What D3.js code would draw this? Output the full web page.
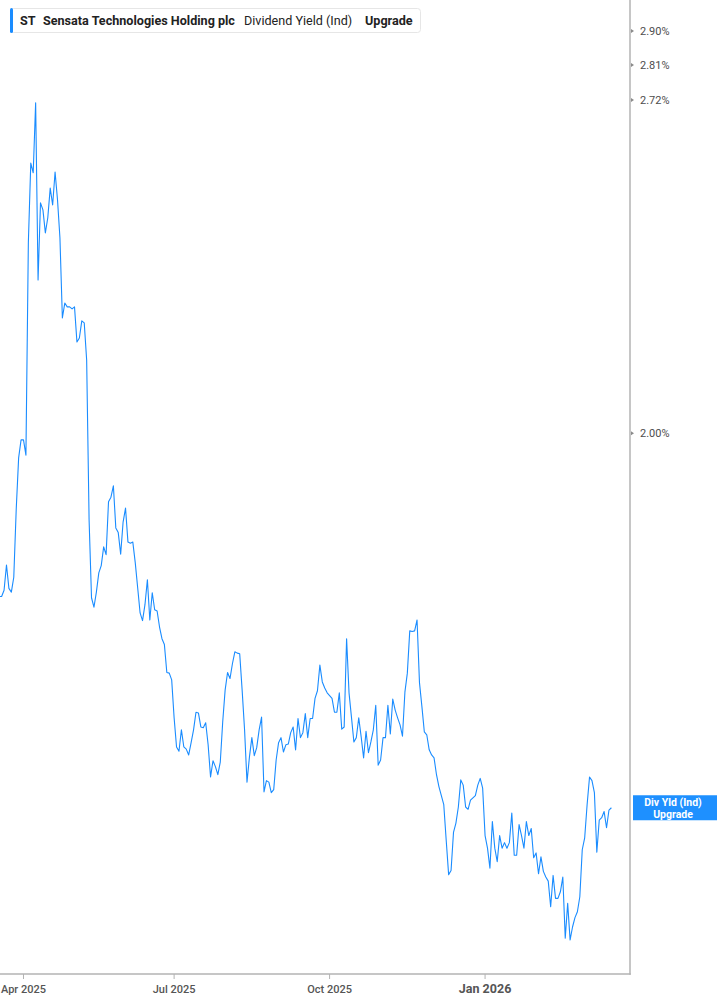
<!DOCTYPE html>
<html>
<head>
<meta charset="utf-8">
<script src="https://cdn.jsdelivr.net/npm/d3@7/dist/d3.min.js"></script>
<style>
  html, body { margin: 0; padding: 0; background: #fff; }
  svg { display: block; }
  text { font-family: Roboto, "Noto Sans", sans-serif; }
</style>
</head>
<body>
<svg id="chart" width="717" height="1005"></svg>
<script>
// ---- Data: Sensata Technologies (ST) Dividend Yield (Ind), daily trading sessions ----
const ticker = "ST";
const companyName = "Sensata Technologies Holding plc";
const metricName = "Dividend Yield (Ind)";
const upgradeLabel = "Upgrade";
const endLabelLines = ["Div Yld (Ind)", "Upgrade"];

// Dividend yield in %, one value per trading day (mid-Mar 2025 .. mid-Mar 2026)
const yieldValues = [
  1.719, 1.719, 1.729, 1.770, 1.732, 1.726, 1.750, 1.863, 1.955, 1.988,
  1.988, 1.960, 2.387, 2.570, 2.547, 2.718, 2.306, 2.477, 2.461, 2.409,
  2.443, 2.511, 2.472, 2.549, 2.484, 2.398, 2.226, 2.257, 2.249, 2.249,
  2.245, 2.249, 2.177, 2.185, 2.220, 2.216, 2.141, 1.846, 1.717, 1.702,
  1.726, 1.757, 1.769, 1.800, 1.787, 1.877, 1.885, 1.905, 1.832, 1.824,
  1.788, 1.842, 1.866, 1.808, 1.806, 1.808, 1.774, 1.733, 1.693, 1.681,
  1.706, 1.746, 1.682, 1.725, 1.698, 1.696, 1.671, 1.653, 1.644, 1.602,
  1.601, 1.591, 1.536, 1.495, 1.489, 1.519, 1.495, 1.492, 1.484, 1.501,
  1.519, 1.544, 1.543, 1.523, 1.522, 1.529, 1.498, 1.454, 1.476, 1.468,
  1.457, 1.474, 1.530, 1.576, 1.602, 1.593, 1.615, 1.633, 1.631, 1.630,
  1.576, 1.519, 1.447, 1.481, 1.508, 1.483, 1.494, 1.519, 1.537, 1.434,
  1.449, 1.447, 1.433, 1.437, 1.477, 1.501, 1.508, 1.488, 1.498, 1.499,
  1.515, 1.523, 1.491, 1.535, 1.508, 1.515, 1.542, 1.508, 1.535, 1.535,
  1.564, 1.575, 1.613, 1.588, 1.579, 1.572, 1.568, 1.564, 1.544, 1.544,
  1.572, 1.520, 1.523, 1.653, 1.572, 1.537, 1.502, 1.508, 1.536, 1.509,
  1.480, 1.517, 1.487, 1.502, 1.519, 1.554, 1.470, 1.477, 1.508, 1.508,
  1.554, 1.513, 1.563, 1.547, 1.536, 1.526, 1.510, 1.573, 1.601, 1.665,
  1.664, 1.665, 1.682, 1.587, 1.552, 1.516, 1.512, 1.491, 1.484, 1.480,
  1.457, 1.441, 1.429, 1.417, 1.371, 1.328, 1.333, 1.381, 1.393, 1.414,
  1.450, 1.443, 1.414, 1.411, 1.423, 1.426, 1.429, 1.443, 1.452, 1.439,
  1.377, 1.361, 1.336, 1.395, 1.361, 1.344, 1.377, 1.361, 1.368, 1.361,
  1.368, 1.406, 1.352, 1.352, 1.391, 1.377, 1.361, 1.395, 1.377, 1.386,
  1.349, 1.355, 1.329, 1.350, 1.332, 1.325, 1.320, 1.289, 1.327, 1.299,
  1.299, 1.307, 1.325, 1.252, 1.293, 1.250, 1.265, 1.276, 1.283, 1.301,
  1.359, 1.374, 1.417, 1.454, 1.449, 1.433, 1.356, 1.397, 1.400, 1.408,
  1.387, 1.410, 1.413
];

// X-axis ticks: trading-day index of first session of each labelled month
const xTickIndex = [10, 72, 136, 200];
const xTickLabels = ["Apr 2025", "Jul 2025", "Oct 2025", "Jan 2026"];
const xTickBold = [false, false, false, true];

// Y-axis ticks (percent)
const yTickValues = [2.90, 2.81, 2.72, 2.00];

// ---- Layout ----
const W = 717, H = 1005;
const plotLeft = 0, plotRight = 630, plotTop = 0, plotBottom = 974;
const lineColor = "#1a8cff";

const svg = d3.select("#chart");
svg.append("rect").attr("width", W).attr("height", H).attr("fill", "#fff");

const x = d3.scaleLinear()
  .domain([0, yieldValues.length - 1])
  .range([-0.8, 611.4]);

const y = d3.scaleLog()
  .domain([1.211, 2.990])
  .range([plotBottom, plotTop]);

svg.append("clipPath").attr("id", "plotClip")
  .append("rect")
  .attr("x", plotLeft).attr("y", plotTop)
  .attr("width", plotRight - plotLeft).attr("height", plotBottom - plotTop);

// Line
const line = d3.line()
  .x((d, i) => x(i))
  .y(d => y(d));

svg.append("path")
  .datum(yieldValues)
  .attr("clip-path", "url(#plotClip)")
  .attr("fill", "none")
  .attr("stroke", lineColor)
  .attr("stroke-width", 1.1)
  .attr("stroke-linejoin", "round")
  .attr("d", line);

// Axes frame
const axisColor = "#b3b3b3";
svg.append("line")
  .attr("x1", plotRight).attr("x2", plotRight)
  .attr("y1", 0).attr("y2", plotBottom + 0.75)
  .attr("stroke", axisColor).attr("stroke-width", 1.5);
svg.append("line")
  .attr("x1", 0).attr("x2", plotRight + 0.75)
  .attr("y1", plotBottom).attr("y2", plotBottom)
  .attr("stroke", axisColor).attr("stroke-width", 1.5);

// Right axis ticks & labels
const yTicks = svg.append("g");
yTickValues.forEach(v => {
  const yy = y(v) - (v > 2.5 ? 2 : 0);
  yTicks.append("path")
    .attr("d", `M${plotRight + 1},${yy - 2} L${plotRight + 4},${yy} L${plotRight + 1},${yy + 2} Z`)
    .attr("fill", "#8a8a8a");
  yTicks.append("text")
    .attr("x", plotRight + 10)
    .attr("y", yy)
    .attr("dy", "0.35em")
    .attr("font-size", 11)
    .attr("fill", "#4d4d4d")
    .text(d3.format(".2f")(v) + "%");
});

// Bottom axis ticks & labels
const xTicks = svg.append("g");
xTickIndex.forEach((idx, k) => {
  const xx = x(idx);
  xTicks.append("line")
    .attr("x1", xx).attr("x2", xx)
    .attr("y1", plotBottom).attr("y2", plotBottom + 5)
    .attr("stroke", axisColor).attr("stroke-width", 1);
  xTicks.append("text")
    .attr("x", xx)
    .attr("y", plotBottom + 19)
    .attr("text-anchor", "middle")
    .attr("font-size", xTickBold[k] ? 12.5 : 11)
    .attr("font-weight", xTickBold[k] ? 700 : 500)
    .attr("fill", "#555")
    .text(xTickLabels[k]);
});

// End-of-line label
const lastV = yieldValues[yieldValues.length - 1];
const ly = y(lastV);
svg.append("rect")
  .attr("x", 633).attr("y", ly - 12.5)
  .attr("width", W - 633).attr("height", 25)
  .attr("fill", "#1e90ff");
endLabelLines.forEach((t, k) => {
  svg.append("text")
    .attr("x", 673).attr("y", ly - 5 + k * 11.5)
    .attr("dy", "0.35em")
    .attr("text-anchor", "middle")
    .attr("font-size", 10.5)
    .attr("font-weight", 700)
    .attr("fill", "#fff")
    .text(t);
});

// Legend
const lg = svg.append("g");
lg.append("rect")
  .attr("x", 10.5).attr("y", 8.5)
  .attr("width", 410).attr("height", 24)
  .attr("rx", 3)
  .attr("fill", "#fff")
  .attr("stroke", "#e6e6e6");
lg.append("rect")
  .attr("x", 10).attr("y", 8)
  .attr("width", 3).attr("height", 25)
  .attr("rx", 1.5)
  .attr("fill", lineColor);
const legendItems = [
  { text: ticker, x: 20, w: 700 },
  { text: companyName, x: 43, w: 700 },
  { text: metricName, x: 244, w: 400 },
  { text: upgradeLabel, x: 365, w: 700 }
];
legendItems.forEach(it => {
  lg.append("text")
    .attr("x", it.x).attr("y", 21)
    .attr("dy", "0.35em")
    .attr("font-size", 12.6)
    .attr("font-weight", it.w)
    .attr("fill", "#222")
    .text(it.text);
});
</script>
</body>
</html>
